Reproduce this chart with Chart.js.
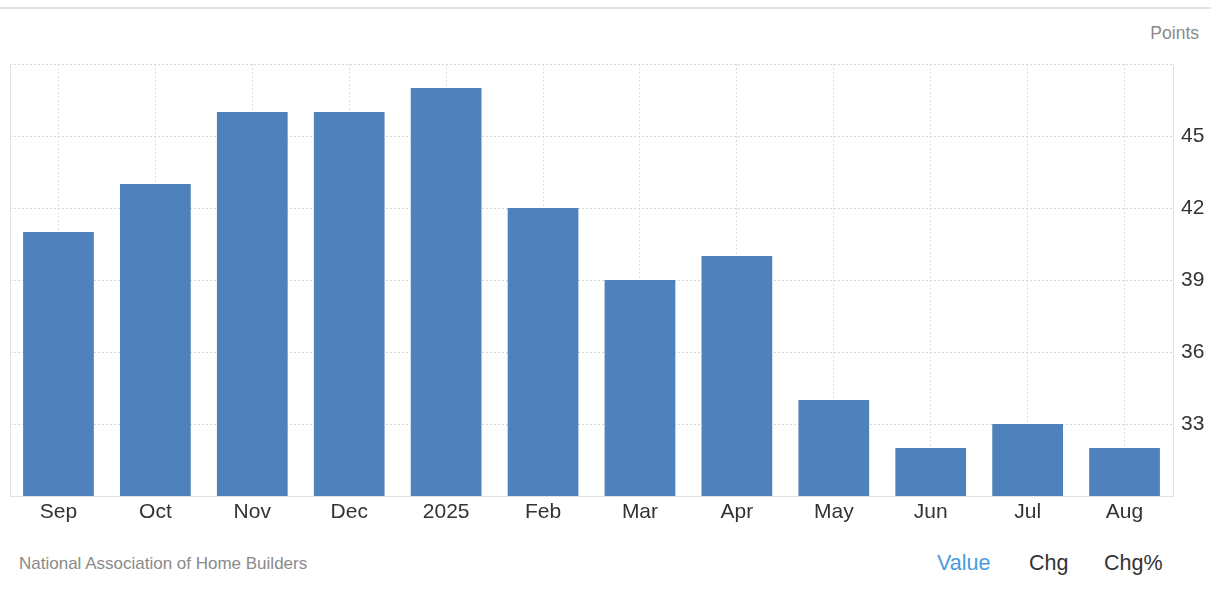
<!DOCTYPE html>
<html>
<head>
<meta charset="utf-8">
<script src="https://cdn.jsdelivr.net/npm/chart.js@4/dist/chart.umd.min.js"></script>
<style>
  body { margin: 0; background: #fff; font-family: "Liberation Sans", Arial, sans-serif; }
  #wrap { position: relative; width: 1211px; height: 602px; overflow: hidden; }
  #topline { position: absolute; left: 0; top: 7px; width: 1211px; height: 2px; background: #e3e3e3; }
  #unit { position: absolute; right: 12px; top: 23px; font-size: 17.5px; color: #8a8a8a; }
  #box { position: absolute; left: 0; top: 0; width: 1211px; height: 530px; }
  #source { position: absolute; left: 19px; top: 554px; font-size: 17px; color: #8a8a8a; }
  .tab { position: absolute; top: 551px; font-size: 21.5px; color: #333; }
</style>
</head>
<body>
<div id="wrap">
  <div id="topline"></div>
  <div id="unit">Points</div>
  <div id="box"><canvas id="myChart"></canvas></div>
  <div id="source">National Association of Home Builders</div>
  <div class="tab" style="left:937px;color:#4a9be0;">Value</div>
  <div class="tab" style="left:1029px;">Chg</div>
  <div class="tab" style="left:1104px;">Chg%</div>
</div>
<script>
var months = ["Sep", "Oct", "Nov", "Dec", "2025", "Feb", "Mar", "Apr", "May", "Jun", "Jul", "Aug"];
var points = [41, 43, 46, 46, 47, 42, 39, 40, 34, 32, 33, 32];
var yTicks = [33, 36, 39, 42, 45, 48];

// left edge of the plot area
var leftBorder = {
  id: 'leftBorder',
  afterDraw: function(chart){
    var a = chart.chartArea, ctx = chart.ctx;
    ctx.save();
    ctx.strokeStyle = '#e3e3e3';
    ctx.lineWidth = 1;
    ctx.beginPath();
    ctx.moveTo(a.left + 0.5, a.top);
    ctx.lineTo(a.left + 0.5, a.bottom);
    ctx.stroke();
    ctx.restore();
  }
};

var ctx = document.getElementById('myChart').getContext('2d');
var chart = new Chart(ctx, {
  type: 'bar',
  data: {
    labels: months,
    datasets: [{
      label: "Points",
      backgroundColor: '#4f81bd',
      borderWidth: 0,
      data: points,
      barPercentage: 0.73,
      categoryPercentage: 1
    }]
  },
  plugins: [leftBorder],
  options: {
    responsive: true,
    maintainAspectRatio: false,
    animation: false,
    layout: { padding: { left: 10, top: 64, right: 0, bottom: 0 } },
    plugins: { legend: { display: false }, tooltip: { enabled: false } },
    scales: {
      x: {
        offset: true,
        grid: { offset: false, color: '#dedede', drawTicks: false },
        border: { color: '#e3e3e3', dash: [2, 2] },
        ticks: { color: '#333', font: { family: 'Liberation Sans', size: 21 }, padding: 4, maxRotation: 0 },
        afterFit: function(scale){ scale.height = 34; }
      },
      y: {
        position: 'right',
        min: 30,
        max: 48,
        afterBuildTicks: function(scale){
          scale.ticks = yTicks.map(function(v){ return { value: v }; });
        },
        grid: { color: '#d8d8d8', drawTicks: false },
        border: { color: '#e3e3e3', dash: [2, 2] },
        ticks: {
          color: '#333',
          font: { family: 'Liberation Sans', size: 21 },
          padding: 8,
          callback: function(v){ return v === 48 ? '' : v; }
        },
        afterFit: function(scale){ scale.width = 38; }
      }
    }
  }
});
</script>
</body>
</html>
